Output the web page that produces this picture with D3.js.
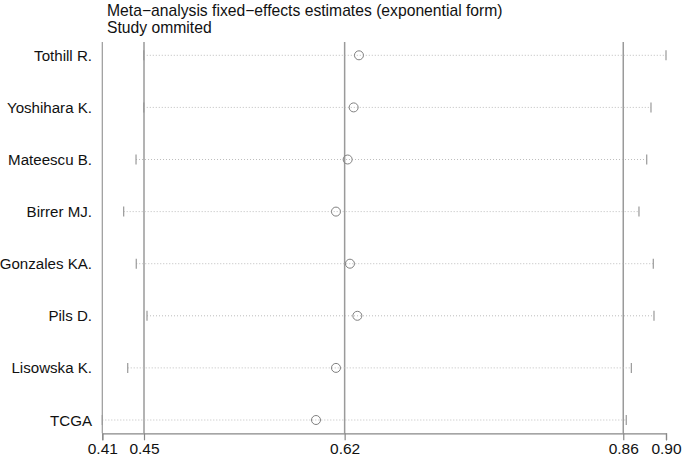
<!DOCTYPE html>
<html>
<head>
<meta charset="utf-8">
<script src="https://cdn.jsdelivr.net/npm/d3@7"></script>
<style>
  body { margin: 0; background: #fff; }
  svg text { font-family: "Liberation Sans", Arial, sans-serif; fill: #111; }
</style>
</head>
<body>
<div class="container"></div>
<script>
var w = 685;
var h = 456;

// studies omitted, one per row
var studies = ["Tothill R.", "Yoshihara K.", "Mateescu B.", "Birrer MJ.", "Gonzales KA.", "Pils D.", "Lisowska K.", "TCGA"];
var estimate = [0.6347, 0.6301, 0.6249, 0.6148, 0.6269, 0.6333, 0.6148, 0.5975];
var lower = [0.4484, 0.4484, 0.4417, 0.4310, 0.4419, 0.4512, 0.4345, 0.4125];
var upper = [0.9005, 0.8875, 0.8838, 0.8771, 0.8895, 0.8901, 0.8705, 0.8661];

// combined estimate and CI (reference lines)
var combined = [0.4486, 0.6223, 0.8635];
var tickValues = [0.4125, 0.4486, 0.6223, 0.8635, 0.9005];

var data = studies.map((s, i) => ({ name: s, est: estimate[i], lo: lower[i], hi: upper[i] }));

var canvas = d3.select(".container").append("svg")
  .attr("width", w)
  .attr("height", h);

var x = d3.scaleLinear().domain([0.4125, 0.9005]).range([102.3, 666]);
var y = d3.scalePoint().domain(studies).range([55.3, 420]);

var yTop = 42, yBottom = 433.3;

// titles
canvas.append("text").attr("x", 107).attr("y", 15.5).style("font-size", "15.7px")
  .text("Meta\u2212analysis fixed\u2212effects estimates (exponential form)");
canvas.append("text").attr("x", 107).attr("y", 32.5).style("font-size", "15.7px")
  .text("Study ommited");

// left frame line
canvas.append("line")
  .attr("x1", x(0.4125)).attr("x2", x(0.4125))
  .attr("y1", yTop).attr("y2", yBottom)
  .attr("stroke", "#999").attr("stroke-width", 1.2);

// combined lines
canvas.selectAll(".comb").data(combined).enter().append("line")
  .attr("x1", (d) => x(d)).attr("x2", (d) => x(d))
  .attr("y1", yTop).attr("y2", yBottom)
  .attr("stroke", "#9a9a9a").attr("stroke-width", 1.5);

// rows
var rows = canvas.selectAll(".row").data(data).enter().append("g");

rows.append("line")
  .attr("x1", (d) => x(d.lo)).attr("x2", (d) => x(d.hi))
  .attr("y1", (d) => y(d.name)).attr("y2", (d) => y(d.name))
  .attr("stroke", "#bdbdbd").attr("stroke-width", 1)
  .attr("stroke-dasharray", "1,2");

rows.append("line")
  .attr("x1", (d) => x(d.lo)).attr("x2", (d) => x(d.lo))
  .attr("y1", (d) => y(d.name) - 5).attr("y2", (d) => y(d.name) + 5)
  .attr("stroke", "#999").attr("stroke-width", 1.2);

rows.append("line")
  .attr("x1", (d) => x(d.hi)).attr("x2", (d) => x(d.hi))
  .attr("y1", (d) => y(d.name) - 5).attr("y2", (d) => y(d.name) + 5)
  .attr("stroke", "#999").attr("stroke-width", 1.2);

rows.append("circle")
  .attr("cx", (d) => x(d.est)).attr("cy", (d) => y(d.name))
  .attr("r", 4.5)
  .attr("fill", "none").attr("stroke", "#808080").attr("stroke-width", 1);

rows.append("text")
  .attr("x", 92).attr("y", (d) => y(d.name) + 5.5)
  .attr("text-anchor", "end")
  .style("font-size", "15.1px")
  .text((d) => d.name);

// bottom axis
var axis = canvas.append("g")
  .attr("transform", "translate(0," + yBottom + ")")
  .call(d3.axisBottom(x).tickValues(tickValues).tickFormat(d3.format(".2f")).tickSize(7).tickPadding(3));
axis.select(".domain").attr("stroke", "#888").attr("stroke-width", 1.2);
axis.selectAll(".tick line").attr("stroke", "#888").attr("stroke-width", 1.2);
axis.selectAll(".tick text").style("font-size", "15.5px").style("font-family", "Liberation Sans, Arial, sans-serif").attr("fill", "#111");
</script>
</body>
</html>
